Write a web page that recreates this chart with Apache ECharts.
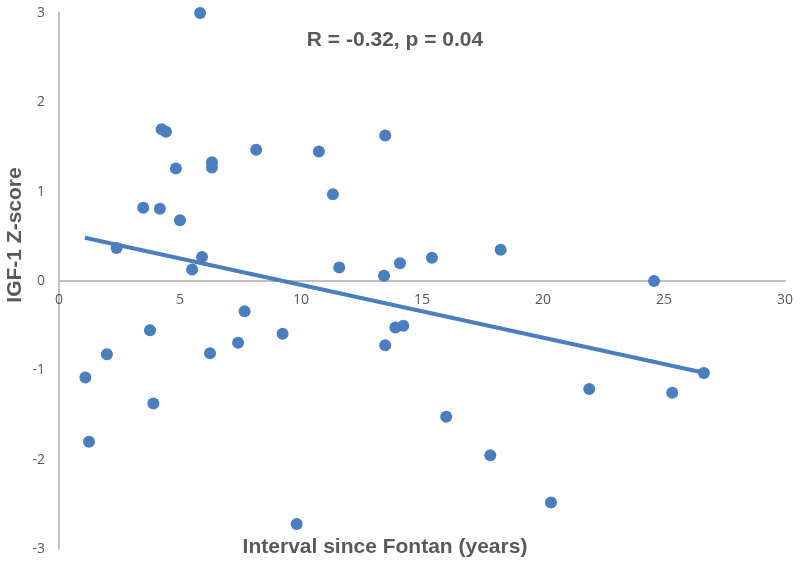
<!DOCTYPE html>
<html>
<head>
<meta charset="utf-8">
<script src="https://cdn.jsdelivr.net/npm/echarts@6/dist/echarts.min.js"></script>
<style>
  html, body { margin: 0; padding: 0; background: #ffffff; }
  #chart { width: 800px; height: 565px; }
</style>
</head>
<body>
<div id="chart"></div>
<script>
// Interval since Fontan (years) vs IGF-1 Z-score
const intervalYears = [
  5.83, 4.24, 4.42, 13.48, 8.15, 10.74, 6.32, 6.32, 4.83, 11.32,
  3.48, 4.17, 5.0, 2.38, 5.91, 5.5, 11.58, 13.43, 14.09, 15.41,
  18.25, 24.59, 7.67, 3.76, 9.24, 13.9, 13.48, 7.4, 6.24, 1.98,
  1.09, 3.9, 1.24, 9.82, 14.23, 26.65, 21.91, 25.34, 16.0, 17.82, 20.33
]
const igfZScore = [
  3.0, 1.7, 1.67, 1.63, 1.47, 1.45, 1.33, 1.27, 1.26, 0.97,
  0.82, 0.81, 0.68, 0.37, 0.27, 0.13, 0.15, 0.06, 0.2, 0.26,
  0.35, 0.0, -0.34, -0.55, -0.59, -0.52, -0.72, -0.69, -0.81, -0.82,
  -1.08, -1.37, -1.8, -2.72, -0.5, -1.03, -1.21, -1.25, -1.52, -1.95, -2.48
]
// linear trendline endpoints (as drawn)
const trendX = [1.07, 26.7]
const trendY = [0.485, -1.03]

const xTicks = [0, 5, 10, 15, 20, 25, 30]
const yTicks = [-3, -2, -1, 0, 1, 2, 3]

const blue = '#4a7ebf'
const labelColor = '#595959'

// x axis sits on y = 0, i.e. halfway up the plot
const gridTop = 13
const gridBottom = 16
const plotHeight = 565 - gridTop - gridBottom

const chart = echarts.init(document.getElementById('chart'))
chart.setOption({
  animation: false,
  backgroundColor: '#ffffff',
  grid: { left: 59, right: 15, top: gridTop, bottom: gridBottom, outerBoundsMode: 'none', containLabel: false },
  xAxis: {
    type: 'value',
    min: xTicks[0],
    max: xTicks[xTicks.length - 1],
    interval: 5,
    offset: -plotHeight / 2,
    axisLine: { onZero: false, lineStyle: { color: '#bfbfbf', width: 2 } },
    axisTick: { show: false },
    splitLine: { show: false },
    axisLabel: { color: labelColor, fontSize: 14, fontFamily: '"Open Sans", sans-serif', margin: 12 }
  },
  yAxis: {
    type: 'value',
    min: yTicks[0],
    max: yTicks[yTicks.length - 1],
    interval: 1,
    axisLine: { show: true, lineStyle: { color: '#bfbfbf', width: 2 } },
    axisTick: { show: false },
    splitLine: { show: false },
    axisLabel: { color: labelColor, fontSize: 14, fontFamily: '"Open Sans", sans-serif', margin: 14 }
  },
  graphic: [
    {
      type: 'text',
      x: 395,
      y: 40,
      style: {
        text: 'R = -0.32, p = 0.04',
        fill: labelColor,
        font: 'bold 21px "Liberation Sans", Arial, sans-serif',
        align: 'center',
        verticalAlign: 'middle'
      }
    },
    {
      type: 'text',
      x: 15,
      y: 235,
      rotation: Math.PI / 2,
      style: {
        text: 'IGF-1 Z-score',
        fill: labelColor,
        font: 'bold 21px "Liberation Sans", Arial, sans-serif',
        align: 'center',
        verticalAlign: 'middle'
      }
    },
    {
      type: 'text',
      x: 385,
      y: 547,
      style: {
        text: 'Interval since Fontan (years)',
        fill: labelColor,
        font: 'bold 21px "Liberation Sans", Arial, sans-serif',
        align: 'center',
        verticalAlign: 'middle'
      }
    }
  ],
  series: [
    {
      type: 'line',
      data: trendX.map((x, i) => [x, trendY[i]]),
      showSymbol: false,
      lineStyle: { color: blue, width: 4 },
      z: 2
    },
    {
      type: 'scatter',
      data: intervalYears.map((x, i) => [x, igfZScore[i]]),
      symbolSize: 12,
      itemStyle: { color: blue, opacity: 1 },
      z: 3
    }
  ]
})
</script>
</body>
</html>
